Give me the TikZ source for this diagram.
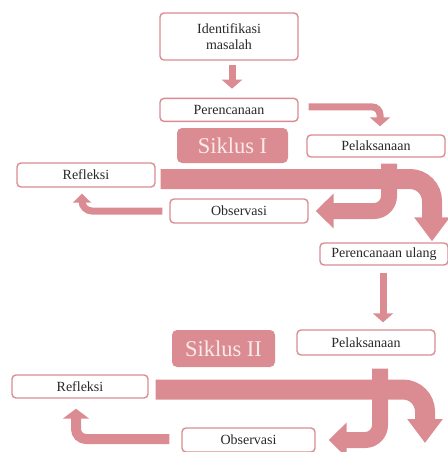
\documentclass[tikz,border=0pt]{standalone}
\usepackage{fontspec}
\setmainfont{Liberation Serif}
\usepackage{tikz}
\usetikzlibrary{arrows.meta,positioning}
\definecolor{siklus}{RGB}{218,140,146}
\definecolor{sikluslight}{RGB}{252,234,234}
\definecolor{labeltext}{RGB}{40,40,40}

\begin{document}
\begin{tikzpicture}[x=1pt, y=-1pt,
          box/.style={draw=siklus, line width=1.4pt, rounded corners=4pt,
                      fill=white, minimum width=138pt, minimum height=23pt,
                      font=\fontsize{14}{16}\selectfont, text=labeltext,
                      align=center, inner sep=2pt},
          cyclebox/.style={fill=siklus, rounded corners=5pt,
                      minimum height=35pt, inner sep=2pt,
                      font=\fontsize{22.5}{24}\selectfont, text=sikluslight},
          arr/.style={-{Triangle[length=9pt,width=20pt]}, line width=7pt, siklus},
          thinarr/.style={-{Triangle[length=9pt,width=18pt]}, line width=7pt,
                      siklus, rounded corners=10pt},
          bendarr/.style={-{Triangle[length=18pt,width=34pt]}, line width=16pt,
                      siklus, rounded corners=15pt},
          band/.style={-{Triangle[length=24pt,width=34pt]}, line width=20pt,
                      siklus, rounded corners=22pt}
        ]
          \useasboundingbox (0,0) rectangle (447,452);
          % first cycle
          \node[box, minimum height=47pt] (ident) at (229,36.5) {Identifikasi\\masalah};
          \node[box, below=37pt of ident] (peren) {Perencanaan};
          \node[cyclebox, minimum width=111pt] (sik1) at (232.5,145.5) {Siklus I};
          \node[box, minimum height=22pt] (pelak1) at (376,146) {Pelaksanaan};
          \node[box, minimum height=24pt] (refl1) at (86,175) {Refleksi};
          \node[box, minimum height=24pt] (obs1) at (239,211) {Observasi};
          \node[box, minimum width=128pt, minimum height=22pt] (perenu) at (384,254) {Perencanaan ulang};
          \draw[arr, shorten <=4pt, shorten >=9pt] ([xshift=3pt]ident.south)
            -- ([xshift=3pt]peren.north);
          \draw[arr, rounded corners=8pt] ([xshift=10pt,yshift=3pt]peren.east)
            -| ([xshift=4pt,yshift=8pt]pelak1.north);
          \draw[band] ([xshift=5pt,yshift=-4pt]refl1.east)
            -| ([xshift=48pt,yshift=1pt]perenu.north);
          \draw[bendarr] ([xshift=13pt,yshift=-6pt]pelak1.south)
            |- ([xshift=7pt]obs1.east);
          \draw[thinarr] ([xshift=-7pt]obs1.west)
            -| ([xshift=-4pt,yshift=-6pt]refl1.south);
          % second cycle
          \node[box, minimum height=25pt] (pelak2) at (366,342.5) {Pelaksanaan};
          \node[cyclebox, minimum width=103pt, minimum height=37pt] (sik2) at (223.5,348.5) {Siklus II};
          \node[box, minimum width=136pt] (refl2) at (80,386.5) {Refleksi};
          \node[box, minimum width=133pt, minimum height=24pt] (obs2) at (248.5,440) {Observasi};
          \coordinate (next) at (425,443);
          \draw[arr, shorten <=7pt, shorten >=7pt] ([xshift=-1pt]perenu.south)
            -- ([xshift=17pt]pelak2.north);
          \draw[band] ([xshift=7pt,yshift=-3pt]refl2.east) -| (next);
          \draw[bendarr] ([xshift=14pt,yshift=-13pt]pelak2.south)
            |- ([xshift=13pt]obs2.east);
          \draw[thinarr, line width=10pt, -{Triangle[length=10pt,width=26pt]}]
            ([xshift=-12pt,yshift=1pt]obs2.west)
            -| ([xshift=-4pt,yshift=-10pt]refl2.south);
        \end{tikzpicture}
\end{document}
